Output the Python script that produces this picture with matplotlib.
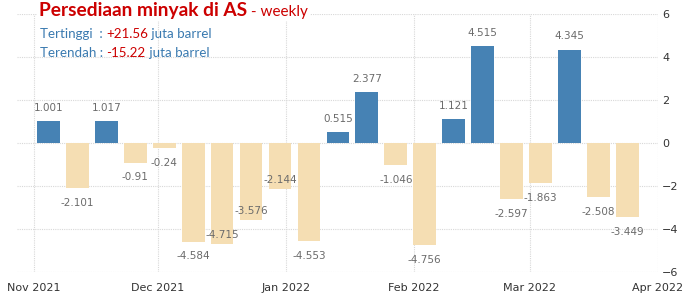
import matplotlib
matplotlib.use("Agg")
import matplotlib.pyplot as plt
import matplotlib.dates as mdates
import numpy as np
import pandas as pd

# ---- data ----
dates = pd.date_range("2021-11-03", periods=21, freq="7D")
values = [1.001, -2.101, 1.017, -0.91, -0.24, -4.584, -4.715, -3.576, -2.144, -4.553,
          0.515, 2.377, -1.046, -4.756, 1.121, 4.515, -2.597, -1.863, 4.345, -2.508, -3.449]
month_ticks = pd.to_datetime(["2021-11-01", "2021-12-01", "2022-01-01", "2022-02-01", "2022-03-01", "2022-04-01"])
month_labels = ["Nov 2021", "Dec 2021", "Jan 2022", "Feb 2022", "Mar 2022", "Apr 2022"]
y_ticks = [6, 4, 2, 0, -2, -4, -6]
title_main = "Persediaan minyak di AS"
title_sub = " - weekly"
high_label, high_val, unit = "Tertinggi  : ", "+21.56", " juta barrel"
low_label, low_val = "Terendah : ", "-15.22"

# labels that the reference shifts up onto the bar end to avoid collisions
inside_label_idx = {6, 7, 8}

BLUE = "#4682b4"
BEIGE = "#f5deb3"
RED = "#cc0000"
LABEL_BLUE = "#3a7ab0"

fig = plt.figure(figsize=(6.84, 3.0), dpi=100)
W, H = 684, 300
ax = fig.add_axes([17 / W, (300 - 272) / H, (658 - 17) / W, (272 - 14) / H])

x = mdates.date2num(dates) + 1.6
colors = [BLUE if v >= 0 else BEIGE for v in values]
ax.bar(x, values, width=5.5, color=colors, zorder=3)

for i, (xi, v) in enumerate(zip(x, values)):
    txt = f"{v:g}"
    if v >= 0:
        ax.annotate(txt, (xi, v), xytext=(0, 6), textcoords="offset points",
                    ha="center", va="bottom", fontsize=7.5, color="#6b6b6b", zorder=4)
    elif i in inside_label_idx:
        ax.annotate(txt, (xi, v), xytext=(0, 6.5), textcoords="offset points",
                    ha="center", va="center", fontsize=7.5, color="#6b6b6b", zorder=4)
    else:
        ax.annotate(txt, (xi, v), xytext=(0, -7), textcoords="offset points",
                    ha="center", va="top", fontsize=7.5, color="#6b6b6b", zorder=4)

ax.set_ylim(-6, 6)
ax.set_xlim(mdates.date2num(pd.Timestamp("2021-10-28")), mdates.date2num(pd.Timestamp("2022-04-01")))
ax.set_yticks(y_ticks)
ax.yaxis.tick_right()
ax.tick_params(axis="y", length=0, pad=3, labelsize=8, labelcolor="#333333")
ax.set_xticks(mdates.date2num(month_ticks))
ax.set_xticklabels(month_labels)
ax.tick_params(axis="x", length=0, pad=8, labelsize=8, labelcolor="#333333")
for s in ax.spines.values():
    s.set_visible(False)
ax.grid(True, color="#d8d8d8", linestyle=(0, (1, 1)), linewidth=0.8, zorder=0)
ax.set_axisbelow(True)

# ---- title and subtitles ----
t1 = fig.text(39 / W, 1 - 2 / H, title_main, ha="left", va="top", fontsize=13.8,
              fontweight="bold", color=RED, family="Lato",
              bbox=dict(facecolor="white", edgecolor="none", pad=1.5))
fig.canvas.draw()
t2 = ax.annotate(title_sub, xy=(1, 0), xycoords=t1, va="bottom", ha="left",
                 fontsize=11, color=RED, family="Lato",
                 bbox=dict(facecolor="white", edgecolor="none", pad=1.5))

def chain(parts, y_px):
    prev = None
    for text, col in parts:
        if prev is None:
            prev = fig.text(40 / W, 1 - y_px / H, text, ha="left", va="center",
                            fontsize=9.6, color=col, family="Lato")
        else:
            prev = ax.annotate(text, xy=(1, 0), xycoords=prev, va="bottom", ha="left",
                               fontsize=9.6, color=col, family="Lato")
    return prev

chain([(high_label, LABEL_BLUE), (high_val, RED), (unit, LABEL_BLUE)], 34)
chain([(low_label, LABEL_BLUE), (low_val, RED), (unit, LABEL_BLUE)], 53)

fig.savefig("out.png", dpi=100)
